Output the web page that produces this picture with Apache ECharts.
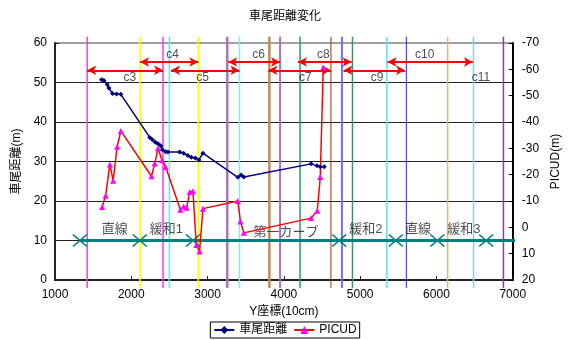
<!DOCTYPE html>
<html><head><meta charset="utf-8">
<script src="https://cdn.jsdelivr.net/npm/echarts@6/dist/echarts.min.js"></script>
<style>html,body{margin:0;padding:0;background:#fff}#c{width:570px;height:340px}</style>
</head><body><div id="c"></div>
<script>
// ---- data ----
const distX = [1610,1641,1684,1706,1754,1807,1863,2242,2277,2316,2350,2386,2408,2451,2481,2634,2686,2742,2787,2839,2886,2939,3396,3440,3475,4356,4434,4477,4529];
const distY = [50.7,50.5,49.5,48.6,47.2,47.1,47.0,36.1,35.5,34.9,34.5,34.0,33.0,32.5,32.4,32.4,32.1,31.5,31.1,30.9,30.4,32.1,26.0,26.6,26.1,29.4,28.9,28.7,28.7];
const picX = [1618,1663,1719,1762,1814,1863,2264,2307,2350,2403,2451,2643,2686,2725,2765,2808,2852,2895,2939,3396,3431,3475,4356,4438,4477,4516];
const picY = [-7.7,-12.0,-23.9,-17.7,-30.6,-36.6,-19.4,-24.2,-30.0,-25.5,-22.9,-6.7,-7.9,-7.4,-13.4,-13.7,6.7,9.2,-7.1,-10.0,-2.2,2.1,-3.5,-6.3,-19.1,-60.7];
const trackX = [1327,2111,2808,4725,5467,6011,6651];
const trackEndX = 7085;
const trackY = 10;
const zoneNames = ['直線','緩和1','第一カーブ','緩和2','直線','緩和3'];
const zoneX = [1784,2460,4029,5075,5758,6359];
const zoneY = [12.9,12.9,12.0,12.9,12.9,12.9];
const boundaryX = [1422,2115,2416,2499,2878,3258,3418,3810,3950,4212,4617,4761,4899,5349,5605,6146,6486,6878,7069];
const boundaryTop = 61.6, boundaryBottom = -2;
const sectionNames = ['c3','c4','c5','c6','c7','c8','c9','c10','c11'];
const sectionStart = [1422,2115,2520,3270,3797,4185,4782,5357,6146];
const sectionEnd   = [2416,2878,3418,3950,4617,4887,5588,6477,7030];
const sectionRowY  = [53.1,55.2,53.1,55.2,53.1,55.2,53.1,55.2,53.1];
const sectionLabelX = [1980,2542,2935,3667,4281,4516,5222,5846,6582];
const sectionLabelY = [51.2,57.0,51.2,57.0,51.2,57.0,51.2,57.0,51.2];
const xTicks = {min:1000,max:7000,interval:1000};
const leftTicks = {min:0,max:60,interval:10};
const rightTicks = {min:-70,max:20,interval:10};

// ---- styles ----
const boundaryColor = ['#FF33FF','#FFFF00','#FF33FF','#33FFFF','#FFFF00','#A878B8','#55FFFF','#C08860','#B070C0','#339966','#993300','#7070FF','#409060','#66DDFF','#2020FF','#FFB040','#66DDFF','#9933AA','#FFC060'];
const boundaryWidth = [1.5,1.5,1.5,1.5,1.5,2.5,1.5,2.5,2,1.5,1,2,1.5,1.5,1,1.5,1.5,1.5,1];

const FONT = '"Liberation Sans", Arial, "Noto Sans CJK JP", sans-serif';
const chart = echarts.init(document.getElementById('c'), null, {renderer:'canvas'});

const series = [];
boundaryX.forEach((x,i)=>{
  series.push({type:'line', name:'b'+i, yAxisIndex:0, data:[[x,boundaryBottom],[x,boundaryTop]],
    symbol:'none', clip:false, silent:true, z:1,
    lineStyle:{color:boundaryColor[i], width:boundaryWidth[i]}});
});
series.push({type:'line', name:'track', yAxisIndex:0, clip:false, silent:true, z:3,
  data: trackX.map(x=>[x,trackY]).concat([{value:[trackEndX,trackY], symbol:'none'}]),
  symbol:'path://M0,0L10,10M10,0L0,10', symbolSize:[14,12],
  itemStyle:{color:'none', borderColor:'#008080', borderWidth:1.5},
  lineStyle:{color:'#008080', width:3}});
series.push({type:'line', name:'arrows', yAxisIndex:0, data:[], silent:true, z:4,
  markLine:{silent:true, symbol:['arrow','arrow'], symbolSize:[7,9], animation:false,
    label:{show:false}, lineStyle:{color:'#FF0000', width:2, type:'solid'},
    data: sectionNames.map((n,i)=>[{coord:[sectionStart[i],sectionRowY[i]]},{coord:[sectionEnd[i],sectionRowY[i]]}])}});
series.push({type:'scatter', name:'seclabels', yAxisIndex:0, symbolSize:0, silent:true, z:5,
  data: sectionNames.map((n,i)=>({name:n, value:[sectionLabelX[i],sectionLabelY[i]]})),
  label:{show:true, position:'inside', formatter:'{b}', color:'#222', fontSize:12, fontFamily:FONT}});
series.push({type:'scatter', name:'zonelabels', yAxisIndex:0, symbolSize:0, silent:true, z:5,
  data: zoneNames.map((n,i)=>({name:n, value:[zoneX[i],zoneY[i]]})),
  label:{show:true, position:'inside', formatter:'{b}', color:'#222', fontSize:13, fontFamily:FONT}});
series.push({type:'line', name:'PICUD', yAxisIndex:1, z:6,
  data: picX.map((x,i)=>[x,picY[i]]),
  symbol:'triangle', symbolSize:6, itemStyle:{color:'#FF00FF'},
  lineStyle:{color:'#FF0000', width:1.5}});
series.push({type:'line', name:'車尾距離', yAxisIndex:0, z:7,
  data: distX.map((x,i)=>[x,distY[i]]),
  symbol:'diamond', symbolSize:5, itemStyle:{color:'#000080'},
  lineStyle:{color:'#000080', width:1.5}});

chart.setOption({
  animation:false,
  textStyle:{fontFamily:FONT},
  title:{text:'車尾距離変化', left:'center', top:6, textStyle:{fontSize:12, fontWeight:'normal', color:'#000', fontFamily:FONT}},
  grid:{left:55, right:56, top:43, bottom:60, show:true, borderColor:'#808080', borderWidth:1.5},
  legend:{data:[{name:'車尾距離'},{name:'PICUD'}], bottom:2, left:'center', itemWidth:20, itemHeight:10, itemGap:6,
    borderColor:'#000', borderWidth:1, padding:[2,3], textStyle:{fontSize:12, color:'#000', fontFamily:FONT}},
  xAxis:{type:'value', min:xTicks.min, max:xTicks.max, interval:xTicks.interval,
    name:'Y座標(10cm)', nameLocation:'middle', nameGap:25, nameTextStyle:{fontSize:12, color:'#000', fontFamily:FONT},
    axisLine:{lineStyle:{color:'#222', width:2}}, axisTick:{inside:true, length:4, lineStyle:{color:'#222'}},
    axisLabel:{color:'#000', fontSize:12, margin:9, formatter:v=>String(v)}, splitLine:{show:false}},
  yAxis:[
    {type:'value', min:leftTicks.min, max:leftTicks.max, interval:leftTicks.interval, position:'left',
     name:'車尾距離(m)', nameLocation:'middle', nameGap:30, nameTextStyle:{fontSize:12, color:'#000', fontFamily:FONT},
     axisLine:{show:true, lineStyle:{color:'#222', width:2}}, axisTick:{show:true, inside:true, length:4, lineStyle:{color:'#222'}},
     axisLabel:{color:'#000', fontSize:12, margin:8},
     splitLine:{show:true, showMaxLine:false, showMinLine:false, lineStyle:{color:'#222', width:1}}},
    {type:'value', min:rightTicks.min, max:rightTicks.max, interval:rightTicks.interval, position:'right', inverse:true,
     name:'PICUD(m)', nameLocation:'middle', nameGap:34, nameRotate:90, nameTextStyle:{fontSize:12, color:'#000', fontFamily:FONT},
     axisLine:{show:true, lineStyle:{color:'#000', width:2}}, axisTick:{show:true, inside:true, length:4, lineStyle:{color:'#000'}},
     axisLabel:{color:'#000', fontSize:12, margin:9}, splitLine:{show:false}}
  ],
  series: series
});
</script></body></html>
